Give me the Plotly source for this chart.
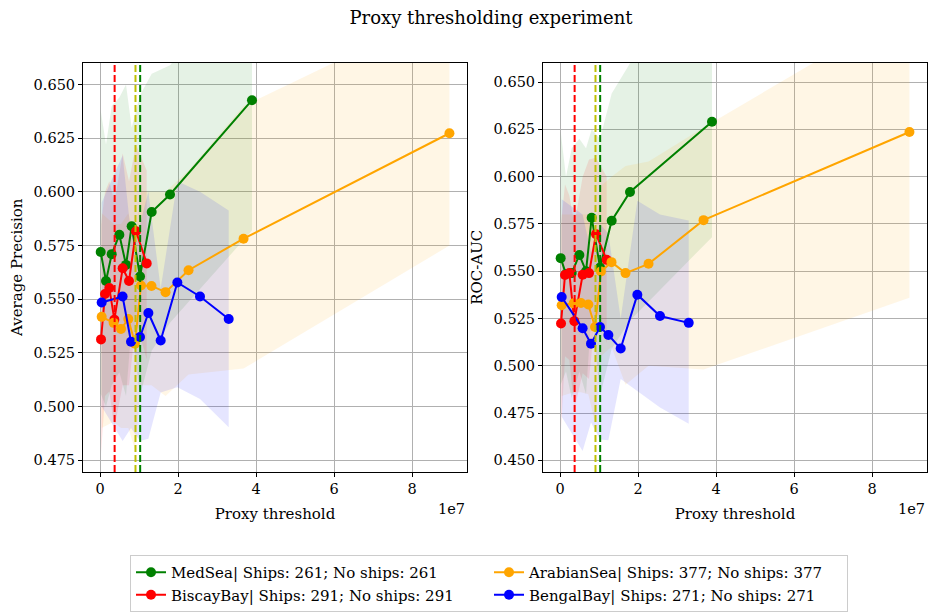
import plotly.graph_objects as go

# ---------------- data ----------------
# proxy thresholds (raw units)
med_x = [0.017e7, 0.154e7, 0.30e7, 0.496e7, 0.667e7, 0.812e7, 1.026e7, 1.325e7, 1.795e7, 3.897e7]
bis_x = [0.026e7, 0.128e7, 0.239e7, 0.368e7, 0.581e7, 0.744e7, 0.923e7, 1.197e7]
ara_x = [0.043e7, 0.35e7, 0.538e7, 0.726e7, 0.897e7, 1.05e7, 1.32e7, 1.68e7, 2.27e7, 3.68e7, 8.96e7]
ben_x = [0.043e7, 0.58e7, 0.795e7, 1.026e7, 1.24e7, 1.556e7, 1.983e7, 2.564e7, 3.30e7]

# Average precision: mean, lower, upper
med_ap = [0.572, 0.5585, 0.571, 0.580, 0.566, 0.584, 0.5606, 0.5906, 0.5988, 0.6427]
med_ap_hi = [0.638, 0.622, 0.640, 0.644, 0.650, 0.630, 0.645, 0.655, 0.659, 0.703]
med_ap_lo = [0.506, 0.500, 0.510, 0.516, 0.505, 0.538, 0.505, 0.526, 0.539, 0.582]

bis_ap = [0.5313, 0.5524, 0.5552, 0.5405, 0.5644, 0.5585, 0.5817, 0.5667]
bis_ap_hi = [0.585, 0.600, 0.605, 0.595, 0.618, 0.605, 0.622, 0.610]
bis_ap_lo = [0.478, 0.505, 0.507, 0.490, 0.510, 0.510, 0.540, 0.522]

ara_ap = [0.5418, 0.539, 0.5362, 0.5408, 0.5293, 0.5564, 0.5562, 0.5533, 0.5635, 0.5782, 0.6273]
ara_ap_hi = [0.590, 0.585, 0.585, 0.590, 0.580, 0.600, 0.600, 0.600, 0.610, 0.640, 0.686]
ara_ap_lo = [0.490, 0.493, 0.490, 0.490, 0.480, 0.510, 0.510, 0.505, 0.515, 0.5177, 0.575]

ben_ap = [0.5485, 0.5513, 0.5302, 0.5324, 0.5436, 0.5308, 0.5578, 0.5513, 0.5408]
ben_ap_hi = [0.595, 0.617, 0.580, 0.585, 0.600, 0.555, 0.605, 0.600, 0.5913]
ben_ap_lo = [0.500, 0.484, 0.490, 0.484, 0.485, 0.5066, 0.509, 0.5035, 0.4904]

# ROC-AUC: mean, lower, upper
med_roc = [0.5569, 0.5485, 0.549, 0.5586, 0.550, 0.5783, 0.552, 0.5767, 0.5919, 0.629]
med_roc_hi = [0.624, 0.600, 0.615, 0.620, 0.615, 0.625, 0.620, 0.644, 0.660, 0.690]
med_roc_lo = [0.490, 0.497, 0.483, 0.497, 0.485, 0.530, 0.484, 0.509, 0.524, 0.568]

bis_roc = [0.5224, 0.548, 0.549, 0.5236, 0.5481, 0.549, 0.5696, 0.556]
bis_roc_hi = [0.575, 0.596, 0.590, 0.575, 0.600, 0.609, 0.610, 0.600]
bis_roc_lo = [0.466, 0.505, 0.503, 0.477, 0.496, 0.493, 0.530, 0.512]

ara_roc = [0.532, 0.533, 0.5332, 0.5324, 0.5205, 0.5499, 0.5548, 0.549, 0.5539, 0.577, 0.6236]
ara_roc_hi = [0.580, 0.580, 0.580, 0.580, 0.570, 0.595, 0.600, 0.6056, 0.608, 0.626, 0.690]
ara_roc_lo = [0.484, 0.486, 0.486, 0.485, 0.470, 0.505, 0.510, 0.490, 0.500, 0.498, 0.536]

ben_roc = [0.5364, 0.5198, 0.5117, 0.5205, 0.5163, 0.5091, 0.5376, 0.5263, 0.5227]
ben_roc_hi = [0.588, 0.580, 0.560, 0.575, 0.570, 0.525, 0.5873, 0.580, 0.5768]
ben_roc_lo = [0.473, 0.455, 0.470, 0.461, 0.4606, 0.493, 0.4869, 0.478, 0.4693]

# vertical threshold markers
vline_x = [0.375e7, 0.91e7, 1.03e7]
vline_colors = ["#ff0000", "#bfbf00", "#008000"]

names = ["MedSea| Ships: 261; No ships: 261",
         "BiscayBay| Ships: 291; No ships: 291",
         "ArabianSea| Ships: 377; No ships: 377",
         "BengalBay| Ships: 271; No ships: 271"]
legend_rank = [1, 3, 2, 4]
colors = ["#008000", "#ff0000", "#ffa500", "#0000ff"]
fills = ["rgba(0,128,0,0.1)", "rgba(255,0,0,0.1)", "rgba(255,165,0,0.1)", "rgba(0,0,255,0.1)"]

x_tickvals = [0, 2e7, 4e7, 6e7, 8e7]
x_ticktext = ["0", "2", "4", "6", "8"]
ap_ticks = [0.475, 0.500, 0.525, 0.550, 0.575, 0.600, 0.625, 0.650]
roc_ticks = [0.450, 0.475, 0.500, 0.525, 0.550, 0.575, 0.600, 0.625, 0.650]

xs = [med_x, bis_x, ara_x, ben_x]
ap = [(med_ap, med_ap_lo, med_ap_hi), (bis_ap, bis_ap_lo, bis_ap_hi),
      (ara_ap, ara_ap_lo, ara_ap_hi), (ben_ap, ben_ap_lo, ben_ap_hi)]
roc = [(med_roc, med_roc_lo, med_roc_hi), (bis_roc, bis_roc_lo, bis_roc_hi),
       (ara_roc, ara_roc_lo, ara_roc_hi), (ben_roc, ben_roc_lo, ben_roc_hi)]

FONT = "DejaVu Serif"
W, H = 932, 612
TICK = 14.5
LABEL = 15

fig = go.Figure()

def add_panel(data, xa, ya, legend):
    for i in range(4):
        x = xs[i]
        m, lo, hi = data[i]
        fig.add_trace(go.Scatter(
            x=list(x) + list(x)[::-1], y=list(hi) + list(lo)[::-1],
            fill="toself", fillcolor=fills[i], mode="lines",
            line=dict(width=0), hoverinfo="skip", showlegend=False,
            xaxis=xa, yaxis=ya))
    for i in range(4):
        m, lo, hi = data[i]
        fig.add_trace(go.Scatter(
            x=xs[i], y=m, mode="lines+markers", name=names[i],
            line=dict(color=colors[i], width=2),
            marker=dict(color=colors[i], size=10),
            showlegend=legend, legendrank=legend_rank[i],
            xaxis=xa, yaxis=ya))
    for vx, vc in zip(vline_x, vline_colors):
        fig.add_shape(type="line", xref=xa, yref=ya + " domain",
                      x0=vx, x1=vx, y0=0, y1=1,
                      line=dict(color=vc, width=2, dash="7px,3px"))

add_panel(ap, "x", "y", True)
add_panel(roc, "x2", "y2", False)

px0 = lambda p: p / W
py0 = lambda p: 1 - p / H

axis_common = dict(
    showline=True, mirror=True, linecolor="black", linewidth=1,
    ticks="outside", ticklen=4, tickcolor="black", tickwidth=1,
    showgrid=True, gridcolor="#b0b0b0", gridwidth=1, zeroline=False,
    tickfont=dict(family=FONT, size=TICK, color="black"),
)

xr = [-0.436e7, 9.41e7]
fig.update_layout(
    width=W, height=H,
    margin=dict(l=0, r=0, t=0, b=0),
    paper_bgcolor="white", plot_bgcolor="white",
    font=dict(family=FONT, color="black"),
    title=dict(text="Proxy thresholding experiment", x=px0(491), xanchor="center",
               y=py0(18), yanchor="middle", font=dict(family=FONT, size=18, color="black")),
    xaxis=dict(domain=[px0(83), px0(467)], range=xr, tickvals=x_tickvals, ticktext=x_ticktext,
               title=dict(text="Proxy threshold", font=dict(family=FONT, size=LABEL), standoff=12),
               anchor="y", **axis_common),
    yaxis=dict(domain=[py0(475), py0(63)], range=[0.4696, 0.6602], tickvals=ap_ticks,
               tickformat=".3f",
               title=dict(text="Average Precision", font=dict(family=FONT, size=LABEL), standoff=7),
               anchor="x", **axis_common),
    xaxis2=dict(domain=[px0(543), px0(927)], range=xr, tickvals=x_tickvals, ticktext=x_ticktext,
                title=dict(text="Proxy threshold", font=dict(family=FONT, size=LABEL), standoff=12),
                anchor="y2", **axis_common),
    yaxis2=dict(domain=[py0(475), py0(63)], range=[0.4439, 0.6603], tickvals=roc_ticks,
                tickformat=".3f",
                title=dict(text="ROC-AUC", font=dict(family=FONT, size=LABEL), standoff=7),
                anchor="x2", **axis_common),
    legend=dict(orientation="h", x=px0(489), xanchor="center", y=py0(559), yanchor="top",
                bgcolor="white", bordercolor="#cccccc", borderwidth=1,
                font=dict(family=FONT, size=15, color="black"),
                entrywidth=313, traceorder="normal"),
    showlegend=True,
)

for xa in ["x domain", "x2 domain"]:
    fig.add_annotation(text="1e7", xref=xa, x=1, xanchor="right", yref="paper", y=py0(512),
                       yanchor="middle", showarrow=False,
                       font=dict(family=FONT, size=TICK, color="black"))

fig.write_html("out.html")
